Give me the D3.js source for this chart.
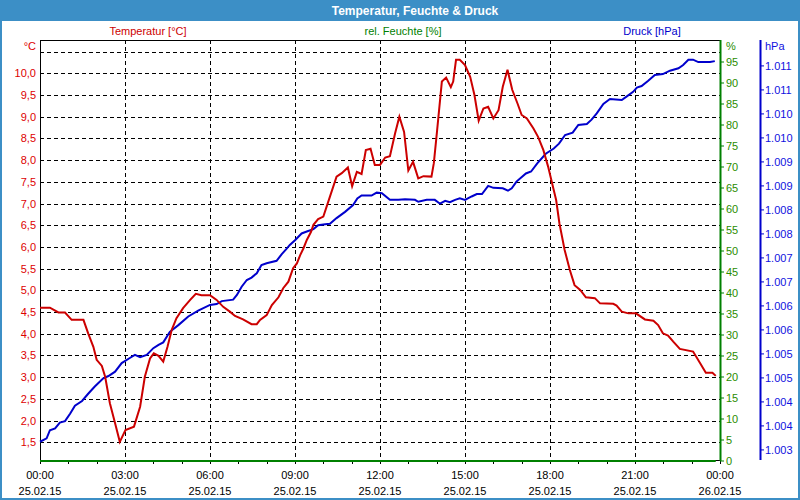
<!DOCTYPE html>
<html><head><meta charset="utf-8">
<script src="https://cdn.jsdelivr.net/npm/d3@7"></script>
<style>body{margin:0;background:#fff}svg{display:block}text{font-family:"Liberation Sans",Arial,sans-serif}</style>
</head><body><svg id="c" width="800" height="500"></svg>
<script>
// ---- data (minutes since 25.02.15 00:00) ----
const tempMinutes = [0,21,39,53,67,92,102,113,120,131,138,148,159,169,181,199,212,222,233,241,251,261,270,279,289,303,318,330,342,360,374,388,402,413,430,448,459,466,480,491,505,515,526,536,544,551,558,565,574,579,589,600,614,628,639,652,661,671,681,690,700,709,720,731,741,752,761,771,780,790,801,812,829,834,841,851,860,870,875,881,889,900,911,920,929,939,949,960,971,980,990,1000,1011,1020,1031,1045,1055,1066,1076,1087,1093,1100,1111,1122,1132,1144,1156,1175,1186,1214,1221,1232,1246,1262,1281,1299,1309,1319,1330,1341,1355,1383,1398,1410,1424,1431];
const tempValues = [4.60,4.60,4.49,4.49,4.32,4.32,4.01,3.70,3.40,3.26,3.01,2.40,1.94,1.51,1.78,1.86,2.32,3.01,3.43,3.55,3.49,3.36,3.70,4.09,4.36,4.59,4.78,4.92,4.89,4.89,4.78,4.62,4.51,4.41,4.33,4.22,4.22,4.32,4.43,4.66,4.84,5.05,5.20,5.51,5.62,5.81,5.97,6.16,6.35,6.51,6.64,6.70,7.16,7.62,7.70,7.83,7.40,7.73,7.68,8.23,8.26,7.89,7.89,8.06,8.09,8.62,9.00,8.65,7.76,7.96,7.58,7.63,7.62,7.93,8.69,9.81,9.90,9.68,9.81,10.31,10.31,10.19,9.92,9.50,8.91,9.19,9.23,8.96,9.15,9.69,10.08,9.62,9.31,9.04,8.96,8.73,8.53,8.23,7.85,7.35,7.08,6.54,5.93,5.47,5.12,5.01,4.84,4.82,4.70,4.69,4.65,4.51,4.47,4.47,4.33,4.30,4.20,4.01,3.96,3.82,3.65,3.59,3.32,3.10,3.10,3.03];

const pressMinutes = [0,14,21,32,42,53,64,74,89,102,116,134,145,159,173,191,201,212,226,240,251,261,275,293,314,335,360,374,385,409,417,427,438,448,459,469,480,501,512,522,529,540,554,565,579,589,604,614,628,646,663,672,681,702,713,724,741,759,773,794,801,819,836,847,858,868,879,889,900,914,925,936,949,960,980,991,999,1009,1029,1040,1053,1071,1088,1099,1112,1128,1140,1158,1168,1179,1193,1207,1232,1242,1256,1264,1274,1288,1302,1319,1334,1352,1362,1373,1383,1394,1419,1429];
const pressValues = [1003.17,1003.24,1003.41,1003.45,1003.57,1003.60,1003.76,1003.92,1004.02,1004.17,1004.32,1004.49,1004.54,1004.63,1004.81,1004.92,1004.98,1004.93,1004.98,1005.12,1005.19,1005.24,1005.46,1005.60,1005.78,1005.90,1006.02,1006.04,1006.10,1006.13,1006.23,1006.40,1006.54,1006.59,1006.68,1006.85,1006.89,1006.94,1007.08,1007.19,1007.27,1007.37,1007.51,1007.55,1007.60,1007.68,1007.70,1007.71,1007.83,1007.96,1008.10,1008.24,1008.30,1008.30,1008.36,1008.35,1008.21,1008.21,1008.22,1008.21,1008.17,1008.21,1008.21,1008.13,1008.19,1008.16,1008.21,1008.24,1008.21,1008.28,1008.33,1008.33,1008.50,1008.46,1008.45,1008.40,1008.45,1008.59,1008.76,1008.80,1008.97,1009.17,1009.28,1009.38,1009.56,1009.61,1009.77,1009.79,1009.88,1010.01,1010.21,1010.31,1010.29,1010.36,1010.46,1010.55,1010.58,1010.69,1010.81,1010.83,1010.90,1010.95,1011.02,1011.13,1011.13,1011.08,1011.08,1011.10];

const humMinutes = [0,1431];
const humValues = [0,0];

const tempTicks = [1.5,2.0,2.5,3.0,3.5,4.0,4.5,5.0,5.5,6.0,6.5,7.0,7.5,8.0,8.5,9.0,9.5,10.0];
const tempGrid = [1.5,2.0,2.5,3.0,3.5,4.0,4.5,5.0,5.5,6.0,6.5,7.0,7.5,8.0,8.5,9.0,9.5,10.0,10.5];
const humTicks = [0,5,10,15,20,25,30,35,40,45,50,55,60,65,70,75,80,85,90,95];
const pressTicks = [1003,1003.5,1004,1004.5,1005,1005.5,1006,1006.5,1007,1007.5,1008,1008.5,1009,1009.5,1010,1010.5,1011];
const timeTickHours = [0,3,6,9,12,15,18,21,24];
const minorTickHours = d3.range(0,25);

const title = "Temperatur, Feuchte & Druck";
const legend = ["Temperatur [°C]","rel. Feuchte [%]","Druck [hPa]"];

// ---- layout ----
const L=40,R=720,T=40,B=460;
const RED="#cc0000", GREEN="#008000", BLUE="#0000cc", FRAME="#3c8fc6";
const base = new Date(2015,1,25,0,0);
const t = m => new Date(base.getTime()+m*60000);

const svg = d3.select("#c");
const x = d3.scaleTime().domain([t(0),t(1440)]).range([L,R]);
const yT = d3.scaleLinear().domain([1.092,10.767]).range([B,T]);
const yH = d3.scaleLinear().domain([0,100]).range([461,41]);
const yP = d3.scaleLinear().domain([1002.79,1011.54]).range([B,T]);

// frame + title
svg.append("rect").attr("x",0).attr("y",0).attr("width",800).attr("height",500).attr("fill","#fff");
svg.append("rect").attr("x",0).attr("y",0).attr("width",800).attr("height",21).attr("fill",FRAME);
svg.append("rect").attr("x",1).attr("y",1).attr("width",798).attr("height",498).attr("fill","none").attr("stroke",FRAME).attr("stroke-width",2);
svg.append("text").attr("x",415).attr("y",15).attr("text-anchor","middle").attr("fill","#fff")
  .attr("font-size",12).attr("font-weight","bold").text(title);

// legend labels
const legX=[148,403,652], legC=[RED,GREEN,BLUE];
legend.forEach((s,i)=>svg.append("text").attr("x",legX[i]).attr("y",35).attr("text-anchor","middle")
  .attr("font-size",11).attr("fill",legC[i]).text(s));

// grid
const g = svg.append("g").attr("stroke","#000").attr("stroke-width",1).attr("stroke-dasharray","4,3");
tempGrid.forEach(v=>{const yy=Math.round(yT(v))+0.5;
  g.append("line").attr("x1",L).attr("x2",R).attr("y1",yy).attr("y2",yy);});
timeTickHours.slice(1,-1).forEach(h=>{const xx=Math.round(x(t(h*60)))+0.5;
  g.append("line").attr("x1",xx).attr("x2",xx).attr("y1",T).attr("y2",B);});

// plot frame (top + left) and bottom axis
svg.append("line").attr("x1",L).attr("x2",R).attr("y1",T+0.5).attr("y2",T+0.5).attr("stroke","#000");
svg.append("line").attr("x1",L+0.5).attr("x2",L+0.5).attr("y1",T).attr("y2",B).attr("stroke","#000");
svg.append("line").attr("x1",L).attr("x2",R).attr("y1",B+0.5).attr("y2",B+0.5).attr("stroke","#000");
minorTickHours.forEach(h=>{const xx=Math.round(x(t(h*60)))+0.5;
  svg.append("line").attr("x1",xx).attr("x2",xx).attr("y1",B).attr("y2",B+4).attr("stroke","#000");});
const fTime=d3.timeFormat("%H:%M"), fDate=d3.timeFormat("%d.%m.%y");
timeTickHours.forEach(h=>{const d=t(h*60), xx=x(d);
  svg.append("text").attr("x",xx).attr("y",479).attr("text-anchor","middle").attr("font-size",11).attr("fill","#000").text(fTime(d));
  svg.append("text").attr("x",xx).attr("y",495).attr("text-anchor","middle").attr("font-size",11).attr("fill","#000").text(fDate(d));
});

// left temperature axis labels
tempTicks.forEach(v=>svg.append("text").attr("x",36).attr("y",yT(v)+4).attr("text-anchor","end")
  .attr("font-size",11).attr("fill","#dd0000").text(v.toFixed(1).replace(".",",")));
svg.append("text").attr("x",36).attr("y",50).attr("text-anchor","end").attr("font-size",11).attr("fill","#dd0000").text("°C");

// humidity axis
svg.append("line").attr("x1",R+0.5).attr("x2",R+0.5).attr("y1",T).attr("y2",B+1).attr("stroke",GREEN).attr("stroke-width",2);
humTicks.forEach(v=>{const yy=yH(v);
  svg.append("line").attr("x1",R).attr("x2",R+4).attr("y1",yy).attr("y2",yy).attr("stroke",GREEN);
  svg.append("text").attr("x",726).attr("y",yy+4).attr("font-size",11).attr("fill","#2a8c00").text(v);});
svg.append("text").attr("x",726).attr("y",50).attr("font-size",11).attr("fill","#2a8c00").text("%");

// pressure axis
svg.append("line").attr("x1",760.5).attr("x2",760.5).attr("y1",T).attr("y2",B).attr("stroke",BLUE).attr("stroke-width",2);
const fP = v=>{const r=Math.round(v);return Math.floor(r/1000)+"."+String(r%1000).padStart(3,"0");};
pressTicks.forEach(v=>{const yy=yP(v);
  svg.append("line").attr("x1",760).attr("x2",764).attr("y1",yy).attr("y2",yy).attr("stroke",BLUE);
  svg.append("text").attr("x",765).attr("y",yy+4).attr("font-size",11).attr("fill","#1010e0").text(fP(v));});
svg.append("text").attr("x",765).attr("y",50).attr("font-size",11).attr("fill","#1010e0").text("hPa");

// series
const line = (ys)=>d3.line().x(d=>x(t(d[0]))).y(d=>ys(d[1]));
const pair = (a,b)=>a.map((m,i)=>[m,b[i]]);
svg.append("path").datum(pair(humMinutes,humValues)).attr("d",line(yH)).attr("fill","none").attr("stroke",GREEN).attr("stroke-width",2);
svg.append("path").datum(pair(pressMinutes,pressValues)).attr("d",line(yP)).attr("fill","none").attr("stroke",BLUE).attr("stroke-width",2);
svg.append("path").datum(pair(tempMinutes,tempValues)).attr("d",line(yT)).attr("fill","none").attr("stroke",RED).attr("stroke-width",2);
</script></body></html>
